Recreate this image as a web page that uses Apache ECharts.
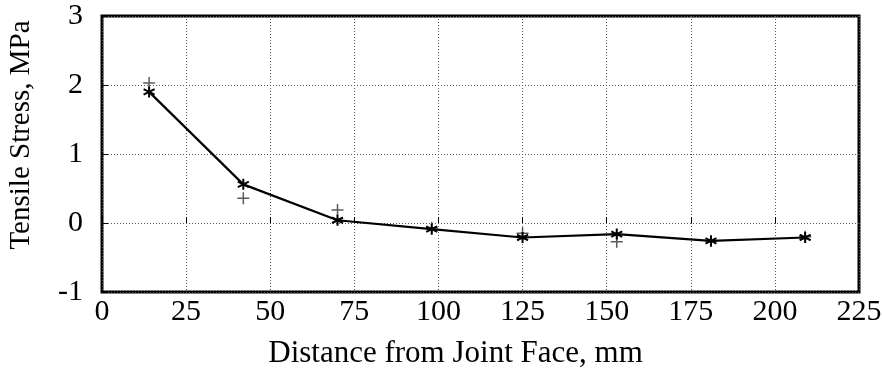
<!DOCTYPE html>
<html>
<head>
<meta charset="utf-8">
<script src="https://cdn.jsdelivr.net/npm/echarts@6/dist/echarts.min.js"></script>
<style>html,body{margin:0;padding:0;background:#fff}#c{width:882px;height:376px}</style>
</head>
<body>
<div id="c"></div>
<script>
const distances = [14, 42, 70, 98, 125, 153, 181, 209];
const stressLine = [1.90, 0.56, 0.04, -0.09, -0.21, -0.16, -0.26, -0.21];
const stressPlus = [2.03, 0.36, 0.19, -0.07, -0.15, -0.27, -0.26, -0.20];
const xTitle = 'Distance from Joint Face, mm';
const yTitle = 'Tensile Stress, MPa';

const font = 'Liberation Serif';
const asterisk = 'path://M5,0L5,10M0.7,2.5L9.3,7.5M0.7,7.5L9.3,2.5';
const plus = 'path://M5,0L5,10M0,5L10,5';

const chart = echarts.init(document.getElementById('c'), null, {renderer: 'canvas'});
chart.setOption({
  animation: false,
  backgroundColor: '#fff',
  grid: {left: 102, right: 23, top: 16, bottom: 84, containLabel: false, outerBoundsMode: 'none',
         show: true, borderColor: '#000', borderWidth: 3, backgroundColor: 'transparent'},
  xAxis: {
    type: 'value', min: 0, max: 225, interval: 25,
    name: xTitle, nameLocation: 'middle', nameGap: 46,
    nameTextStyle: {fontFamily: font, fontSize: 31, color: '#000', padding: [0, 50, 0, 0]},
    axisLine: {show: false},
    axisTick: {show: true, inside: true, length: 6, lineStyle: {color: '#000', width: 1}},
    axisLabel: {fontFamily: font, fontSize: 30, color: '#000', margin: 5},
    splitLine: {show: true, lineStyle: {color: '#555', type: [1, 2], width: 1}}
  },
  yAxis: {
    type: 'value', min: -1, max: 3, interval: 1,
    name: yTitle, nameLocation: 'middle', nameGap: 66,
    nameTextStyle: {fontFamily: font, fontSize: 29, color: '#000', padding: [0, 0, 0, 38]},
    axisLine: {show: false},
    axisTick: {show: true, inside: true, length: 6, lineStyle: {color: '#000', width: 1}},
    axisLabel: {fontFamily: font, fontSize: 30, color: '#000', margin: 19},
    splitLine: {show: true, lineStyle: {color: '#555', type: [1, 2], width: 1}}
  },
  series: [
    {
      type: 'scatter',
      data: distances.map((d, i) => [d, stressPlus[i]]),
      symbol: plus, symbolSize: 12,
      itemStyle: {color: 'transparent', borderColor: '#333', borderWidth: 1.5},
      z: 3
    },
    {
      type: 'line',
      data: distances.map((d, i) => [d, stressLine[i]]),
      symbol: asterisk, symbolSize: 11, showSymbol: true,
      lineStyle: {color: '#000', width: 2.2},
      itemStyle: {color: 'transparent', borderColor: '#000', borderWidth: 2},
      z: 4
    }
  ]
});
</script>
</body>
</html>
